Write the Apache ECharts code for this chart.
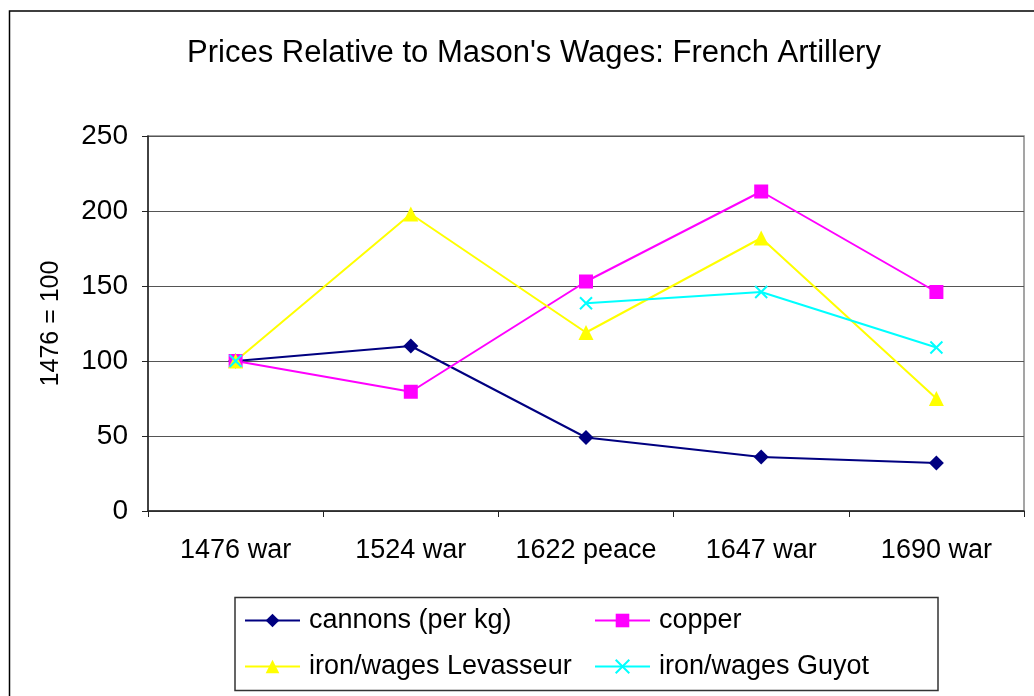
<!DOCTYPE html>
<html>
<head>
<meta charset="utf-8">
<title>Prices Relative to Mason's Wages: French Artillery</title>
<script src="https://cdn.jsdelivr.net/npm/echarts@6/dist/echarts.min.js"></script>
<style>
  html, body { margin: 0; padding: 0; background: #fff; }
  #chart { width: 1034px; height: 696px; }
</style>
</head>
<body>
<div id="chart"></div>
<script>
// data (1476 = 100)
const categories = ['1476 war', '1524 war', '1622 peace', '1647 war', '1690 war'];
const cannons = [100, 110, 49, 36, 32];
const copper = [100, 79.5, 153, 213, 146];
const ironLevasseur = [100, 198, 119, 182, 75];
const ironGuyot = [100, null, 138.5, 146, 109];
const yTicks = [0, 50, 100, 150, 200, 250];

const FONT = "'Liberation Sans', Arial, sans-serif";
const crossPath = 'path://M0,0L10,10M10,0L0,10';

const chart = echarts.init(document.getElementById('chart'), null, { renderer: 'canvas' });

function lineSeries(name, data, color, symbol, size, extra) {
  return Object.assign({
    name: name,
    type: 'line',
    data: data,
    symbol: symbol,
    symbolSize: size,
    showAllSymbol: true,
    connectNulls: false,
    animation: false,
    lineStyle: { color: color, width: 2 },
    itemStyle: { color: color, borderColor: color, borderWidth: 0 }
  }, extra || {});
}

function legendColumn(names, left) {
  return {
    data: names,
    orient: 'vertical',
    left: left,
    top: 607,
    padding: 0,
    itemGap: 19,
    itemWidth: 55,
    itemHeight: 17,
    textStyle: { fontFamily: FONT, fontSize: 27, color: '#000', padding: [0, 0, 0, 4] }
  };
}

const option = {
  backgroundColor: '#fff',
  animation: false,
  title: {
    text: "Prices Relative to Mason's Wages: French Artillery",
    left: 529,
    textAlign: 'center',
    top: 33,
    textStyle: { fontFamily: FONT, fontSize: 31, fontWeight: 'normal', color: '#000' }
  },
  graphic: [
    {
      type: 'rect',
      shape: { x: 9.5, y: 11, width: 1040, height: 700 },
      style: { fill: 'none', stroke: '#000', lineWidth: 1.5 },
      silent: true
    },
    {
      type: 'rect',
      shape: { x: 235, y: 597.5, width: 703, height: 93 },
      style: { fill: 'none', stroke: '#333', lineWidth: 1.5 },
      silent: true
    }
  ],
  legend: [
    legendColumn(['cannons (per kg)', 'iron/wages Levasseur'], 244),
    legendColumn(['copper', 'iron/wages Guyot'], 594)
  ],
  grid: {
    left: 148,
    right: 10,
    top: 136,
    bottom: 185,
    show: true,
    borderColor: '#888',
    borderWidth: 1.5,
    containLabel: false
  },
  xAxis: {
    type: 'category',
    data: categories,
    boundaryGap: true,
    axisLine: { show: true, lineStyle: { color: '#222', width: 1.5 } },
    axisTick: { show: true, length: 6, interval: 0, alignWithLabel: false, lineStyle: { color: '#222' } },
    axisLabel: { interval: 0, margin: 26, fontFamily: FONT, fontSize: 27, color: '#000' },
    splitLine: { show: false }
  },
  yAxis: {
    type: 'value',
    min: yTicks[0],
    max: yTicks[yTicks.length - 1],
    interval: 50,
    name: '1476 = 100',
    nameLocation: 'middle',
    nameRotate: 90,
    nameGap: 84,
    nameTextStyle: { fontFamily: FONT, fontSize: 25, color: '#000' },
    axisLine: { show: true, lineStyle: { color: '#222', width: 1.5 } },
    axisTick: { show: true, length: 6, lineStyle: { color: '#222' } },
    axisLabel: { margin: 20, fontFamily: FONT, fontSize: 28, color: '#000' },
    splitLine: { show: true, lineStyle: { color: '#555', width: 1.2 } }
  },
  series: [
    lineSeries('cannons (per kg)', cannons, '#000080', 'diamond', 15),
    lineSeries('copper', copper, '#ff00ff', 'rect', 14),
    lineSeries('iron/wages Levasseur', ironLevasseur, '#ffff00', 'triangle', 15),
    lineSeries('iron/wages Guyot', ironGuyot, '#00ffff', crossPath, 12, {
      itemStyle: { color: '#00ffff', borderColor: '#00ffff', borderWidth: 2 }
    })
  ]
};

chart.setOption(option);
</script>
</body>
</html>
